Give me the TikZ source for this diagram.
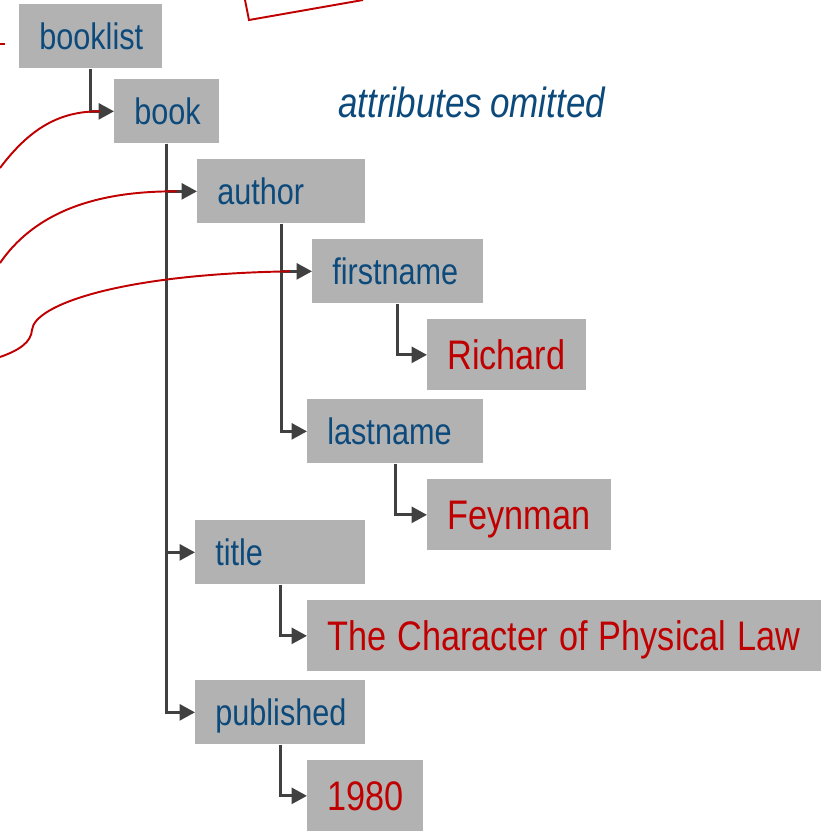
\documentclass[tikz,border=0pt]{standalone}
\usepackage{fontspec}
\setmainfont{Liberation Sans}[FakeStretch=0.83, WordSpace=0.83]
\usetikzlibrary{arrows.meta, positioning, calc}

\definecolor{boxgray}{HTML}{B2B2B2}
\definecolor{tagblue}{HTML}{0D4A7C}
\definecolor{valred}{HTML}{C00000}
\definecolor{linkgray}{HTML}{404040}

\begin{document}
\begin{tikzpicture}[
    x=0.02cm, y=-0.02cm,
    tag/.style={fill=boxgray, text=tagblue, anchor=north west, align=left,
        inner xsep=0.4cm, inner ysep=0pt, text width=#1, minimum height=1.28cm,
        text height=0.53cm, text depth=0pt, font=\fontsize{21}{24}\selectfont},
    val/.style={tag=#1, text=valred, minimum height=1.42cm,
        text height=0.59cm, font=\fontsize{23.5}{26}\selectfont,
        execute at begin node={\spaceskip=0.27em\relax}},
    link/.style={draw=linkgray, line width=1.7pt, -{Triangle[length=0.31cm, width=0.32cm]}},
    ref/.style={draw=valred, line width=1.1pt}
]
    \useasboundingbox (0,0) rectangle (827,832);

    % Element nodes
    \node[tag=2.06cm] (booklist) at (19,4) {booklist};
    \node[tag=1.30cm] (book) at (114,79) {book};
    \node[tag=2.56cm] (author) at (197,159) {author};
    \node[tag=2.62cm] (firstname) at (312,239) {firstname};
    \node[tag=2.72cm] (lastname) at (307,399) {lastname};
    \node[tag=2.60cm] (title) at (195,520) {title};
    \node[tag=2.60cm] (published) at (195,680) {published};

    % Text values
    \node[val=2.38cm] (richard) at (427,319) {Richard};
    \node[val=2.88cm] (feynman) at (427,479) {Feynman};
    \node[val=9.48cm] (character) at (307,600) {\mbox{The Character of Physical Law}};
    \node[val=1.52cm] (year) at (307,760) {1980};

    % Note
    \node[text=tagblue, anchor=base west, inner sep=0pt, font=\fontsize{24}{28}\itshape] (note) at (338,117) {attributes omitted};

    % Edges
    \draw[link] (booklist.south) |- (book.west);
    \draw[link] (book.south) |- (author.west);
    \draw[link] (book.south) |- (title.west);
    \draw[link] (book.south) |- (published.west);
    \draw[link] (author.south) |- (firstname.west);
    \draw[link] (author.south) |- (lastname.west);
    \draw[link] (firstname.south) |- (richard.west);
    \draw[link] (lastname.south) |- (feynman.west);
    \draw[link] (title.south) |- (character.west);
    \draw[link] (published.south) |- (year.west);

    % References coming in from the left
    \coordinate (in1) at (0,168);
    \coordinate (in2) at (0,263);
    \coordinate (in3) at (0,357);
    \coordinate (kink) at (32,330);
    \coordinate (hit1) at ([xshift=-0.28cm]book.west);
    \coordinate (hit2) at ([xshift=-0.4cm]author.west);
    \coordinate (hit3) at ([xshift=-0.44cm]firstname.west);
    \draw[ref] (in1) .. controls (30,128) and (60,111) .. (hit1);
    \draw[ref] (in2) .. controls (40,205) and (110,191) .. (hit2);
    \draw[ref] (in3) .. controls (20,350) and (31,342) .. (kink)
        .. controls (34,305) and (120,274) .. (hit3);

    % Clipped shapes at the edges
    \draw[ref] (0,44) -- (5,44);
    \draw[ref] (245,0) -- (249,20) -- (363,0);
\end{tikzpicture}
\end{document}
